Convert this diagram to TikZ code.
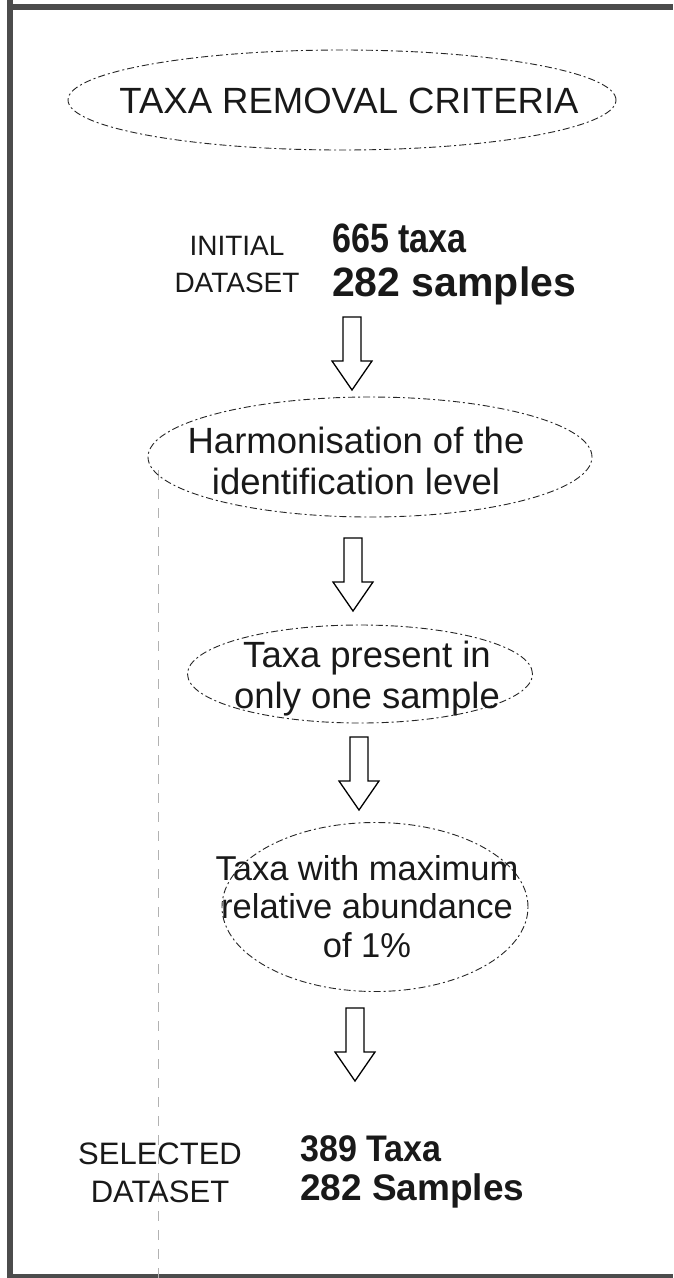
\documentclass[tikz,border=0pt]{standalone}
\usepackage{fontspec}
\setmainfont{Liberation Sans}
\usetikzlibrary{shapes.geometric}
\tikzset{
  oval/.style={draw=black!85, ellipse, dash pattern=on 7pt off 3pt on 2pt off 3pt, line width=0.9pt, inner sep=0pt},
  ttl/.style={font=\fontsize{36.5}{36}\selectfont, text=black!90, inner sep=0pt, anchor=base},
  body/.style={font=\fontsize{35}{35}\selectfont, text=black!90, inner sep=0pt, anchor=base},
  bodyl/.style={body, font=\fontsize{36.5}{36}\selectfont},
  bodys/.style={body, font=\fontsize{34.5}{34}\selectfont},
  lab/.style={font=\fontsize{31}{31}\selectfont, text=black!90, inner sep=0pt, anchor=base},
  labs/.style={lab, font=\fontsize{28}{28}\selectfont},
  num/.style={font=\fontsize{37}{37}\selectfont\bfseries, text=black!90, inner sep=0pt, anchor=base west},
  numl/.style={num, font=\fontsize{41}{41}\selectfont\bfseries},
  narrow/.style={xscale=#1, transform shape},
  blk/.style={draw=black, line width=1.3pt, fill=white, line join=miter},
  frame/.style={fill=black!70},
  ghost/.style={draw=black!30, line width=0.6pt, dash pattern=on 10pt off 9pt}
}
\begin{document}
\begin{tikzpicture}[x=1pt,y=-1pt]
\useasboundingbox (0,0) rectangle (673,1278);
\fill[white] (0,0) rectangle (673,1278);
% frame
\fill[frame] (7,0) rectangle (13,1278);
\fill[frame] (7,4) rectangle (673,10);
\fill[frame] (7,1274) rectangle (673,1278);
\draw[ghost] (158,470) -- (158,1278);

% title
\node[oval, minimum width=548, minimum height=100] (e1) at (342,100) {};
\node[ttl] (t1) at (349,113) {TAXA REMOVAL CRITERIA};

% initial dataset
\node[labs] (in1) at (237,255) {INITIAL};
\node[labs] (in2) at (237,292) {DATASET};
\node[numl, narrow=0.83] (n1) at (332,252) {665 taxa};
\node[numl] (n2) at (332,296) {282 samples};

% step 2
\node[oval, minimum width=444, minimum height=120] (e2) at (370,457) {};
\node[bodyl] (h1) at (356,453) {Harmonisation of the};
\node[bodyl] (h2) at (356,494) {identification level};

% step 3
\node[oval, minimum width=345, minimum height=98] (e3) at (360,674) {};
\node[bodyl] (p1) at (367,667) {Taxa present in};
\node[bodyl] (p2) at (367,708) {only one sample};

% step 4
\node[oval, minimum width=306, minimum height=169] (e4) at (375,907) {};
\node[bodys] (m1) at (367,880) {Taxa with maximum};
\node[bodys] (m2) at (367,918) {relative abundance};
\node[bodys] (m3) at (367,957) {of 1\%};

% selected
\node[lab] (s1) at (160,1164) {SELECTED};
\node[lab] (s2) at (160,1202) {DATASET};
\node[num, narrow=0.92] (r1) at (300,1161) {389 Taxa};
\node[num] (r2) at (300,1200) {282 Samples};

% block arrows
\coordinate (a1) at (352,317);
\coordinate (a2) at (353,538);
\coordinate (a3) at (359,737);
\coordinate (a4) at (355,1008);
\foreach \a in {a1,a2,a3,a4}{
  \draw[blk] (\a) ++(-9,0) -- ++(18,0) -- ++(0,44) -- ++(11,0) -- ++(-20,29) -- ++(-20,-29) -- ++(11,0) -- cycle;
}
\end{tikzpicture}
\end{document}
